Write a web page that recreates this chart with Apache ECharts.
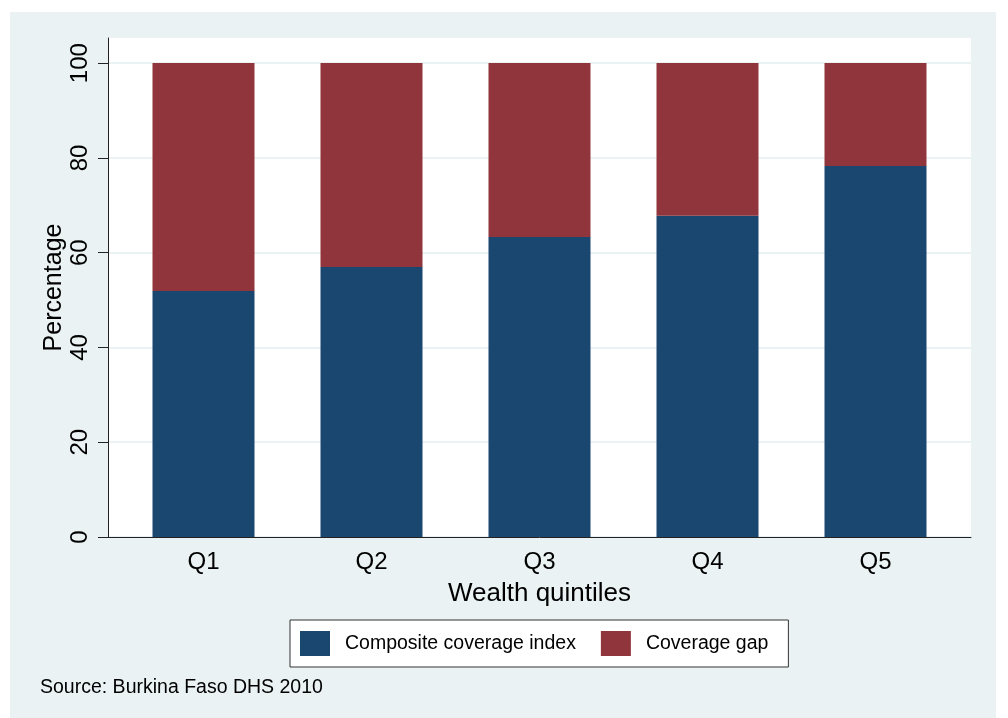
<!DOCTYPE html>
<html>
<head>
<meta charset="utf-8">
<script src="https://cdn.jsdelivr.net/npm/echarts@6/dist/echarts.min.js"></script>
<style>
  html, body { margin: 0; padding: 0; background: #fff; }
  #chart { position: absolute; left: 10px; top: 12px; width: 986px; height: 706px; background: #EAF2F3; }
</style>
</head>
<body>
<div id="chart"></div>
<script>
const categories = ['Q1', 'Q2', 'Q3', 'Q4', 'Q5']
const coverage = [51.9, 57.0, 63.3, 67.8, 78.3]
const gap = [48.1, 43.0, 36.7, 32.2, 21.7]
const yTicks = [0, 20, 40, 60, 80, 100]

const font = "'Liberation Sans', Arial, sans-serif"
const axisColor = '#222'
const yMax = 105.3

const chart = echarts.init(document.getElementById('chart'))
chart.setOption({
  textStyle: { fontFamily: font },
  animation: false,
  // grid 0 = white plot region with y axis; grid 1 = narrower band holding the bars
  grid: [
    { left: 98, top: 26, right: 25, bottom: 181, show: true, backgroundColor: '#fff', borderWidth: 0 },
    { left: 109.5, top: 26, right: 36.5, bottom: 181 }
  ],
  title: {
    text: 'Source: Burkina Faso DHS 2010',
    left: 30, top: 666, padding: 0,
    textStyle: { fontFamily: font, fontSize: 19.5, fontWeight: 'normal', color: '#000' }
  },
  legend: {
    left: 280, top: 608,
    padding: [11, 20, 11, 10],
    backgroundColor: '#fff',
    borderColor: '#333', borderWidth: 1, borderRadius: 0,
    itemWidth: 30, itemHeight: 25, itemGap: 25,
    icon: 'rect',
    textStyle: { fontFamily: font, fontSize: 19.5, color: '#000', padding: [0, 0, 0, 10] },
    data: ['Composite coverage index', 'Coverage gap']
  },
  xAxis: [
    {
      gridIndex: 0, type: 'value', min: 0, max: 1,
      axisLine: { show: true, onZero: false, lineStyle: { color: axisColor, width: 1 } },
      axisTick: { show: false }, axisLabel: { show: false }, splitLine: { show: false }
    },
    {
      gridIndex: 1, type: 'category', data: categories,
      name: 'Wealth quintiles',
      nameLocation: 'middle',
      nameGap: 44,
      nameTextStyle: { fontFamily: font, fontSize: 26, color: '#000' },
      axisLine: { show: false },
      axisTick: { show: false },
      splitLine: { show: false },
      axisLabel: { fontSize: 24, color: '#000', margin: 13 }
    }
  ],
  yAxis: [
    {
      gridIndex: 0, type: 'value', min: 0, max: yMax,
      name: 'Percentage',
      nameLocation: 'middle',
      nameGap: 41,
      nameMoveOverlap: false,
      nameTextStyle: { fontFamily: font, fontSize: 25, color: '#000' },
      axisLine: { show: true, lineStyle: { color: axisColor, width: 1 } },
      axisTick: { show: true, customValues: yTicks, length: 10, lineStyle: { color: axisColor } },
      axisLabel: { customValues: yTicks, rotate: 90, fontSize: 24, color: '#000', margin: 16 },
      splitLine: { show: true, lineStyle: { color: '#EAF2F3', width: 2 } }
    },
    { gridIndex: 1, type: 'value', min: 0, max: yMax, show: false, splitLine: { show: false } }
  ],
  series: [
    {
      name: 'Composite coverage index',
      type: 'bar', stack: 'total', barWidth: 102,
      xAxisIndex: 1, yAxisIndex: 1,
      itemStyle: { color: '#1A476F' },
      data: coverage
    },
    {
      name: 'Coverage gap',
      type: 'bar', stack: 'total', barWidth: 102,
      xAxisIndex: 1, yAxisIndex: 1,
      itemStyle: { color: '#90353B' },
      data: gap
    }
  ]
})
</script>
</body>
</html>
